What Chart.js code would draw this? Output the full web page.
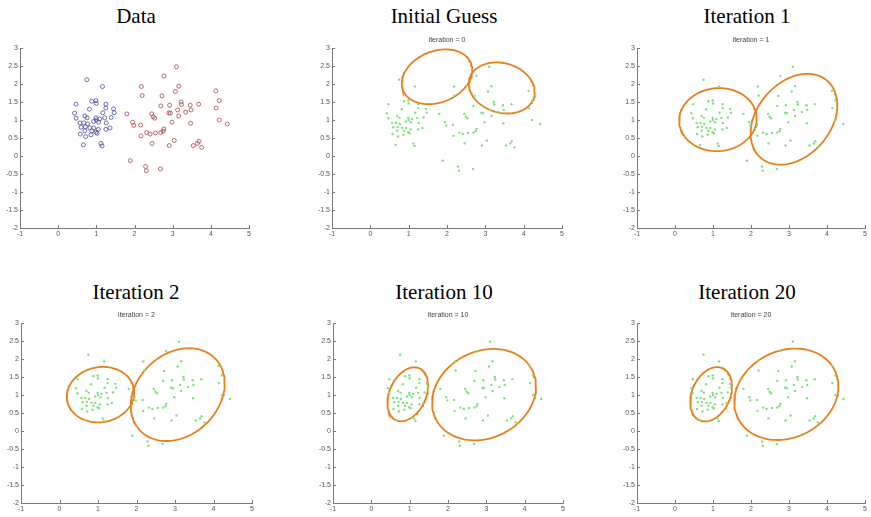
<!DOCTYPE html>
<html>
<head>
  <meta charset="utf-8">
  <title>EM clustering</title>
  <script src="https://cdn.jsdelivr.net/npm/chart.js@4.4.0/dist/chart.umd.min.js"></script>
  <style>
    body { margin: 0; background: #fff; }
    #figure { position: relative; width: 871px; height: 517px; overflow: hidden; background: #fff; }
    .panel-title {
      position: absolute;
      width: 200px;
      text-align: center;
      font-family: "Liberation Serif", "Times New Roman", serif;
      font-size: 21px;
      line-height: 24px;
      color: #000;
    }
    canvas { position: absolute; }
  </style>
</head>
<body>
  <div id="figure"></div>

  <script>
    // raw points, two groups
    const blueX = [0.75,1.16,0.47,0.88,0.99,1.00,1.25,1.25,0.82,1.45,1.47,1.17,0.43,0.70,0.47,0.76,0.99,1.00,1.09,1.22,1.39,0.57,0.67,0.77,0.93,1.06,1.26,0.60,0.71,0.83,0.93,1.05,1.25,1.36,0.58,0.72,0.86,0.99,1.02,0.66,1.12,1.15,0.88,0.70];
    const blueY = [2.12,1.93,1.44,1.52,1.54,1.46,1.44,1.33,1.30,1.31,1.20,1.20,1.19,1.11,1.05,1.06,1.06,1.00,1.03,1.06,1.07,0.92,0.92,0.89,0.96,0.94,0.92,0.80,0.81,0.78,0.78,0.74,0.74,0.78,0.61,0.54,0.59,0.66,0.63,0.31,0.35,0.28,0.70,0.70];
    const redX = [3.10,2.77,2.18,3.16,3.07,4.13,2.20,2.72,4.22,3.22,3.23,2.92,3.46,3.68,2.69,3.13,3.48,3.34,4.14,2.90,2.94,1.80,2.45,2.49,3.16,2.53,4.22,2.98,1.95,1.98,2.16,3.47,4.43,2.77,2.75,2.69,2.55,2.32,2.41,2.17,2.46,2.91,3.04,3.54,3.65,3.69,3.76,1.89,2.29,2.31,2.68];
    const redY = [2.48,2.22,1.93,1.94,1.79,1.81,1.68,1.67,1.54,1.50,1.43,1.41,1.41,1.44,1.39,1.28,1.28,1.22,1.33,1.20,1.19,1.17,1.17,1.09,1.11,1.05,1.00,0.94,0.94,0.85,0.86,0.91,0.89,0.75,0.69,0.65,0.64,0.65,0.61,0.56,0.35,0.29,0.43,0.29,0.35,0.41,0.24,-0.13,-0.29,-0.41,-0.36];

    // EM state per shown iteration: means and contour matrices [sxx, syy, sxy]
    const iterations = [0, 1, 2, 10, 20];
    const panelTitles = ['Data', 'Initial Guess', 'Iteration 1', 'Iteration 2', 'Iteration 10', 'Iteration 20'];
    const mu1X = [1.74, 1.13, 1.065, 0.95, 0.95];
    const mu1Y = [2.20, 1.01, 1.01, 1.02, 1.02];
    const s1XX = [0.846, 1.04, 0.766, 0.281, 0.3025];
    const s1YY = [0.578, 0.766, 0.593, 0.5625, 0.57];
    const s1XY = [0.17, 0.03, 0.05, 0.13, 0.12];
    const mu2X = [3.43, 3.13, 3.07, 2.94, 2.93];
    const mu2Y = [1.89, 1.02, 1.01, 1.01, 1.02];
    const s2XX = [0.74, 1.30, 1.49, 1.836, 1.877];
    const s2YY = [0.504, 1.59, 1.66, 1.613, 1.613];
    const s2XY = [-0.10, 0.45, 0.38, 0.31, 0.30];

    // axis ticks
    const xTicks = [-1, 0, 1, 2, 3, 4, 5];
    const yTicks = [-2, -1.5, -1, -0.5, 0, 0.5, 1, 1.5, 2, 2.5, 3];

    // plot areas of the 2x3 grid (left, top, width, height)
    const plotBoxes = [
      [20, 48, 229, 180], [332, 48, 230, 180], [637, 48, 228, 180],
      [21, 323, 231, 180], [333, 323, 230, 180], [637, 323, 228, 180]
    ];
    const titleCenters = [[136, 4], [444, 4], [747, 4], [136, 280], [444, 280], [747, 280]];

    const toPoints = (xs, ys) => xs.map((x, i) => ({ x, y: ys[i] }));
    const allPoints = toPoints(blueX.concat(redX), blueY.concat(redY));

    // contour x' S^-1 x = 1 through a Cholesky factor of S
    function contour(mx, my, sxx, syy, sxy) {
      const l11 = Math.sqrt(sxx);
      const l21 = sxy / l11;
      const l22 = Math.sqrt(syy - l21 * l21);
      const pts = [];
      for (let k = 0; k <= 120; k++) {
        const t = 2 * Math.PI * k / 120;
        pts.push({ x: mx + l11 * Math.cos(t), y: my + l21 * Math.cos(t) + l22 * Math.sin(t) });
      }
      return pts;
    }

    // small tick marks pointing into the axes
    const inwardTicks = {
      id: 'inwardTicks',
      afterDraw(chart) {
        const { ctx, chartArea, scales } = chart;
        ctx.save();
        ctx.strokeStyle = '#7a7a7a';
        ctx.lineWidth = 1;
        ctx.beginPath();
        scales.x.ticks.forEach(t => {
          const px = Math.round(scales.x.getPixelForValue(t.value)) + 0.5;
          ctx.moveTo(px, chartArea.bottom);
          ctx.lineTo(px, chartArea.bottom - 3);
        });
        scales.y.ticks.forEach(t => {
          const py = Math.round(scales.y.getPixelForValue(t.value)) + 0.5;
          ctx.moveTo(chartArea.left, py);
          ctx.lineTo(chartArea.left + 3, py);
        });
        ctx.stroke();
        ctx.restore();
      }
    };

    const tickFont = { family: 'Liberation Sans', size: 7 };

    function makeChart(idx) {
      const [left, top, w, h] = plotBoxes[idx];
      const canvas = document.createElement('canvas');
      canvas.width = w + 26;
      canvas.height = h + 28;
      canvas.style.left = (left - 20) + 'px';
      canvas.style.top = (top - 14) + 'px';
      canvas.style.width = canvas.width + 'px';
      canvas.style.height = canvas.height + 'px';
      document.getElementById('figure').appendChild(canvas);

      let datasets;
      let titleText = '';
      if (idx === 0) {
        datasets = [
          { data: toPoints(blueX, blueY), pointStyle: 'circle', pointRadius: 2, borderWidth: 0.8,
            borderColor: '#4b4b9e', backgroundColor: 'rgba(0,0,0,0)' },
          { data: toPoints(redX, redY), pointStyle: 'circle', pointRadius: 2, borderWidth: 0.8,
            borderColor: '#a54a4a', backgroundColor: 'rgba(0,0,0,0)' }
        ];
      } else {
        const i = idx - 1;
        titleText = 'iteration = ' + iterations[i];
        const ring = {
          type: 'line', showLine: true, pointRadius: 0, borderColor: '#e5801a',
          borderWidth: 1.8, fill: false, tension: 0
        };
        datasets = [
          { data: allPoints, pointStyle: 'circle', pointRadius: 1.2, borderWidth: 0,
            backgroundColor: '#80e07c' },
          Object.assign({ data: contour(mu1X[i], mu1Y[i], s1XX[i], s1YY[i], s1XY[i]) }, ring),
          Object.assign({ data: contour(mu2X[i], mu2Y[i], s2XX[i], s2YY[i], s2XY[i]) }, ring)
        ];
      }

      new Chart(canvas.getContext('2d'), {
        type: 'scatter',
        data: { datasets },
        options: {
          responsive: false,
          animation: false,
          events: [],
          layout: { padding: { top: idx === 0 ? 14 : 0, right: 6, left: 0, bottom: 0 } },
          plugins: {
            legend: { display: false },
            tooltip: { enabled: false },
            title: {
              display: idx !== 0,
              fullSize: false,
              text: titleText,
              color: '#444',
              font: { family: 'Liberation Sans', size: 7, weight: 'normal', lineHeight: 1 },
              padding: { top: 3, bottom: 4 }
            }
          },
          scales: {
            x: {
              type: 'linear', min: -1, max: 5,
              afterBuildTicks: s => { s.ticks = xTicks.map(v => ({ value: v })); },
              afterFit: s => { s.height = 14; s.paddingLeft = 0; s.paddingRight = 0; },
              ticks: { font: tickFont, color: '#555', padding: 2, maxRotation: 0, callback: v => String(v) },
              grid: { display: false, drawTicks: false },
              border: { display: true, color: '#7a7a7a', width: 1 }
            },
            y: {
              type: 'linear', min: -2, max: 3,
              afterBuildTicks: s => { s.ticks = yTicks.map(v => ({ value: v })); },
              afterFit: s => { s.width = 20; s.paddingTop = 0; s.paddingBottom = 0; },
              ticks: { font: tickFont, color: '#555', padding: 2, callback: v => String(v) },
              grid: { display: false, drawTicks: false },
              border: { display: true, color: '#7a7a7a', width: 1 }
            }
          }
        },
        plugins: [inwardTicks]
      });
    }

    panelTitles.forEach((t, idx) => {
      const div = document.createElement('div');
      div.className = 'panel-title';
      div.textContent = t;
      div.style.left = (titleCenters[idx][0] - 100) + 'px';
      div.style.top = titleCenters[idx][1] + 'px';
      document.getElementById('figure').appendChild(div);
      makeChart(idx);
    });
  </script>
</body>
</html>
